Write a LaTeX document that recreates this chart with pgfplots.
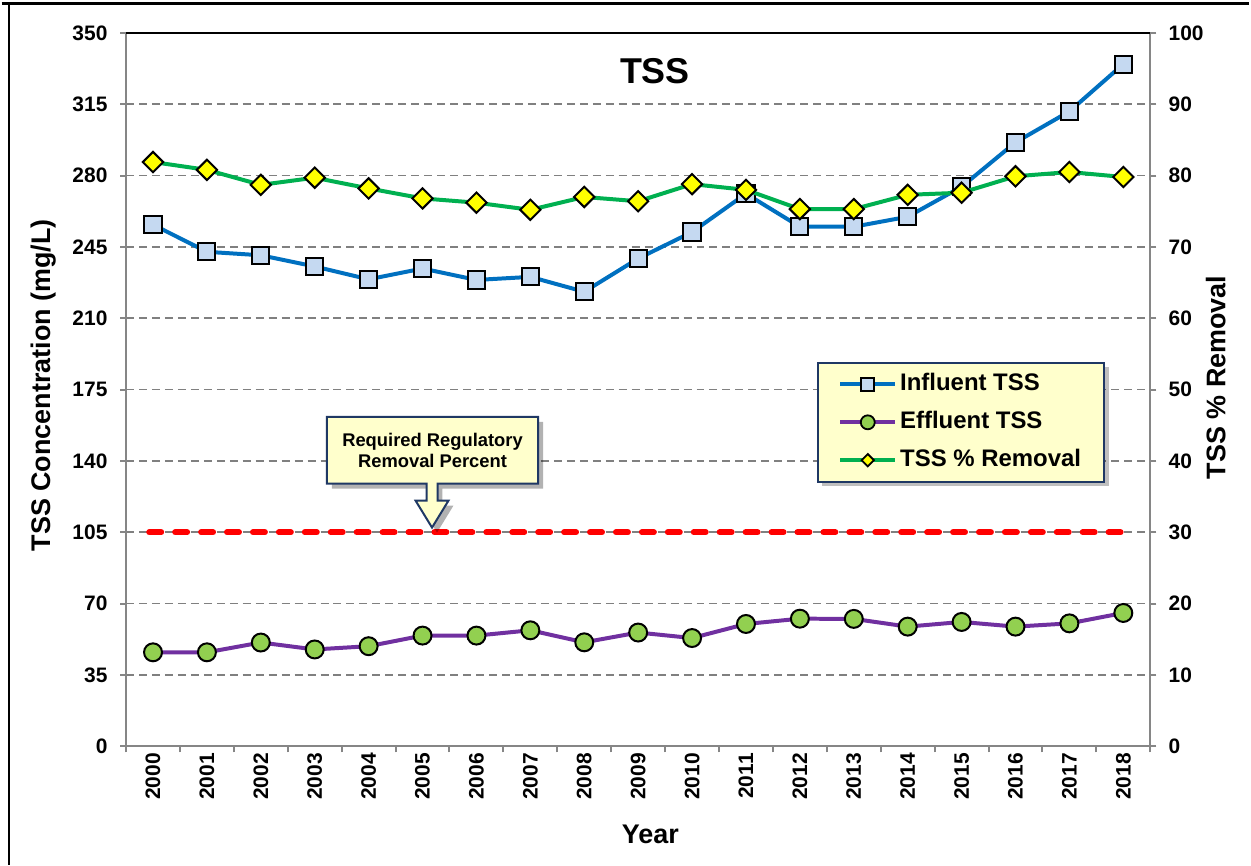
\documentclass[border=0pt]{standalone}
\usepackage{pgfplots}
\pgfplotsset{compat=1.18}
\usepackage{pgfplotstable}
\usepackage{fontspec}
\setmainfont{Liberation Sans}
\usetikzlibrary{shadows}

\definecolor{blueline}{RGB}{0,112,192}
\definecolor{bluefill}{RGB}{197,217,241}
\definecolor{purpleline}{RGB}{112,48,160}
\definecolor{greenfill}{RGB}{146,208,80}
\definecolor{greenline}{RGB}{0,176,80}
\definecolor{markyellow}{RGB}{255,255,0}
\definecolor{axisgrey}{RGB}{134,134,134}
\definecolor{gridgrey}{RGB}{128,128,128}
\definecolor{callfill}{RGB}{255,255,204}
\definecolor{callborder}{RGB}{31,56,100}

\pgfplotstableread{
x infl effl rem
0 255.9 46.1 81.9
1 242.6 46.1 80.8
2 240.9 50.9 78.7
3 235.4 47.5 79.7
4 229.1 49.1 78.2
5 234.4 54.3 76.8
6 228.8 54.3 76.2
7 230.3 56.9 75.2
8 223.0 51.0 77.0
9 239.3 55.8 76.4
10 252.3 53.1 78.8
11 271.1 60.0 78.0
12 254.9 62.6 75.3
13 254.9 62.5 75.3
14 259.8 58.7 77.3
15 274.5 61.0 77.6
16 296.3 58.7 79.9
17 311.5 60.3 80.5
18 334.7 65.4 79.8
}\datatable

\newcommand\tickfont{\bfseries\fontsize{10.5}{12}\selectfont}
\newcommand\labfont{\bfseries\fontsize{13.5}{15}\selectfont}

\begin{document}
\begin{tikzpicture}
\begin{scope}[x=0.5pt,y=-0.5pt,shift={(-124.7,-748.3)}]
  \useasboundingbox (0,0) rectangle (1251,867);
\end{scope}

\begin{axis}[
  width=513.5pt, height=357.65pt, scale only axis,
  at={(0,0)}, anchor=south west,
  xmin=-0.5, xmax=18.5, ymin=0, ymax=350,
  xtick={-0.5,0.5,...,18.5}, xticklabels={},
  extra x ticks={0,1,...,18},
  extra x tick labels={2000,2001,2002,2003,2004,2005,2006,2007,2008,2009,2010,2011,2012,2013,2014,2015,2016,2017,2018},
  extra x tick style={major tick length=0pt, xticklabel style={rotate=90, anchor=east}},
  ytick={0,35,...,350},
  xtick pos=left, ytick pos=left,
  tick align=outside,
  major tick length=3pt,
  every tick/.style={color=axisgrey, line width=1pt},
  axis line style={draw=axisgrey, line width=1pt},
  ymajorgrids,
  major grid style={dash pattern=on 4pt off 2.5pt, color=gridgrey, line width=0.9pt},
  tick label style={font=\tickfont},
  yticklabel style={xshift=-2.8pt},
  /pgf/number format/assume math mode=true,
  xlabel={Year}, ylabel={TSS Concentration (mg/L)},
  label style={font=\labfont},
  xlabel style={at={(axis description cs:0.512,-0.124)}, anchor=center},
  ylabel style={at={(axis description cs:-0.081,0.506)}, anchor=center},
]
\addplot[blueline, line width=2pt, mark=square*, mark size=4.3pt,
  mark options={fill=bluefill, draw=black, line width=1pt, solid}]
  table[x=x, y=infl] {\datatable};
\addplot[purpleline, line width=2pt, mark=*, mark size=4.5pt,
  mark options={fill=greenfill, draw=black, line width=1pt, solid}]
  table[x=x, y=effl] {\datatable};
\end{axis}

% soft shadow behind the legend box
\begin{scope}[x=0.5pt,y=-0.5pt,shift={(-124.7,-748.3)}]
  \fill[black, opacity=0.25] (823,368) rectangle (1110,487);
\end{scope}

\begin{axis}[
  width=513.5pt, height=357.65pt, scale only axis,
  at={(0,0)}, anchor=south west,
  xmin=-0.5, xmax=18.5, ymin=0, ymax=100,
  axis x line=none, axis y line*=right,
  ytick={0,10,...,100},
  tick align=outside,
  major tick length=3pt,
  every tick/.style={color=axisgrey, line width=1pt},
  axis line style={draw=axisgrey, line width=1pt},
  tick label style={font=\tickfont},
  yticklabel style={xshift=2.7pt},
  /pgf/number format/assume math mode=true,
  ylabel={TSS \% Removal},
  label style={font=\labfont},
  ylabel style={at={(axis description cs:1.064,0.517)}, anchor=center, rotate=0},
  legend cell align=left,
  legend image code/.code={\draw[mark repeat=2, mark phase=2, #1] plot coordinates {(0pt,0pt) (13.75pt,0pt) (27.5pt,0pt)};},
  legend style={at={(0.675,0.5387)}, anchor=north west, draw=callborder, line width=1pt,
    fill=callfill, font=\bfseries\fontsize{12}{14}\selectfont,
    inner xsep=10pt, inner ysep=3.5pt, row sep=4.5pt,
    nodes={inner sep=1.5pt, text height=9pt, text depth=2.5pt}},
]
\addlegendimage{blueline, line width=2pt, mark=square*, mark size=3.2pt,
  mark options={fill=bluefill, draw=black, line width=0.9pt, solid}}
\addlegendentry{Influent TSS}
\addlegendimage{purpleline, line width=2pt, mark=*, mark size=3.5pt,
  mark options={fill=greenfill, draw=black, line width=0.9pt, solid}}
\addlegendentry{Effluent TSS}
\addlegendimage{greenline, line width=2pt, mark=square*, mark size=2.2pt,
  mark options={rotate=45, fill=markyellow, draw=black, line width=0.9pt, solid}}
\addlegendentry{TSS \% Removal}
\addplot[red, line width=3pt, line cap=round, dash pattern=on 6pt off 7pt, forget plot]
  coordinates {(-0.07,30) (18.2,30)};
\addplot[greenline, line width=2pt, mark=square*, mark size=3.6pt,
  mark options={rotate=45, fill=markyellow, draw=black, line width=1pt, solid}, forget plot]
  table[x=x, y=rem] {\datatable};
\end{axis}

\draw[black, line width=0.8pt] (0,357.65pt) -- (513.5pt,357.65pt);

\begin{scope}[x=0.5pt,y=-0.5pt,shift={(-124.7,-748.3)}]
  \draw[black, line width=1.7pt] (0,3.5) -- (1251,3.5);
  \draw[black, line width=0.8pt] (7.5,3.5) -- (7.5,867);
  \node[font=\bfseries\fontsize{18}{20}\selectfont] at (655,71) {TSS};
  \path[draw=callborder, line width=1pt, fill=callfill, line join=miter,
    drop shadow={shadow xshift=2.5pt, shadow yshift=-2.5pt, fill=black, opacity=0.3}]
    (326,418) -- (538,418) -- (538,485) -- (437,485) -- (437,502) -- (448,502)
    -- (431.5,529) -- (415,502) -- (426,502) -- (426,485) -- (326,485) -- cycle;
  \node[font=\bfseries\fontsize{9.2}{10.5}\selectfont, align=center] at (432,452)
    {Required Regulatory\\Removal Percent};
\end{scope}
\end{tikzpicture}
\end{document}
